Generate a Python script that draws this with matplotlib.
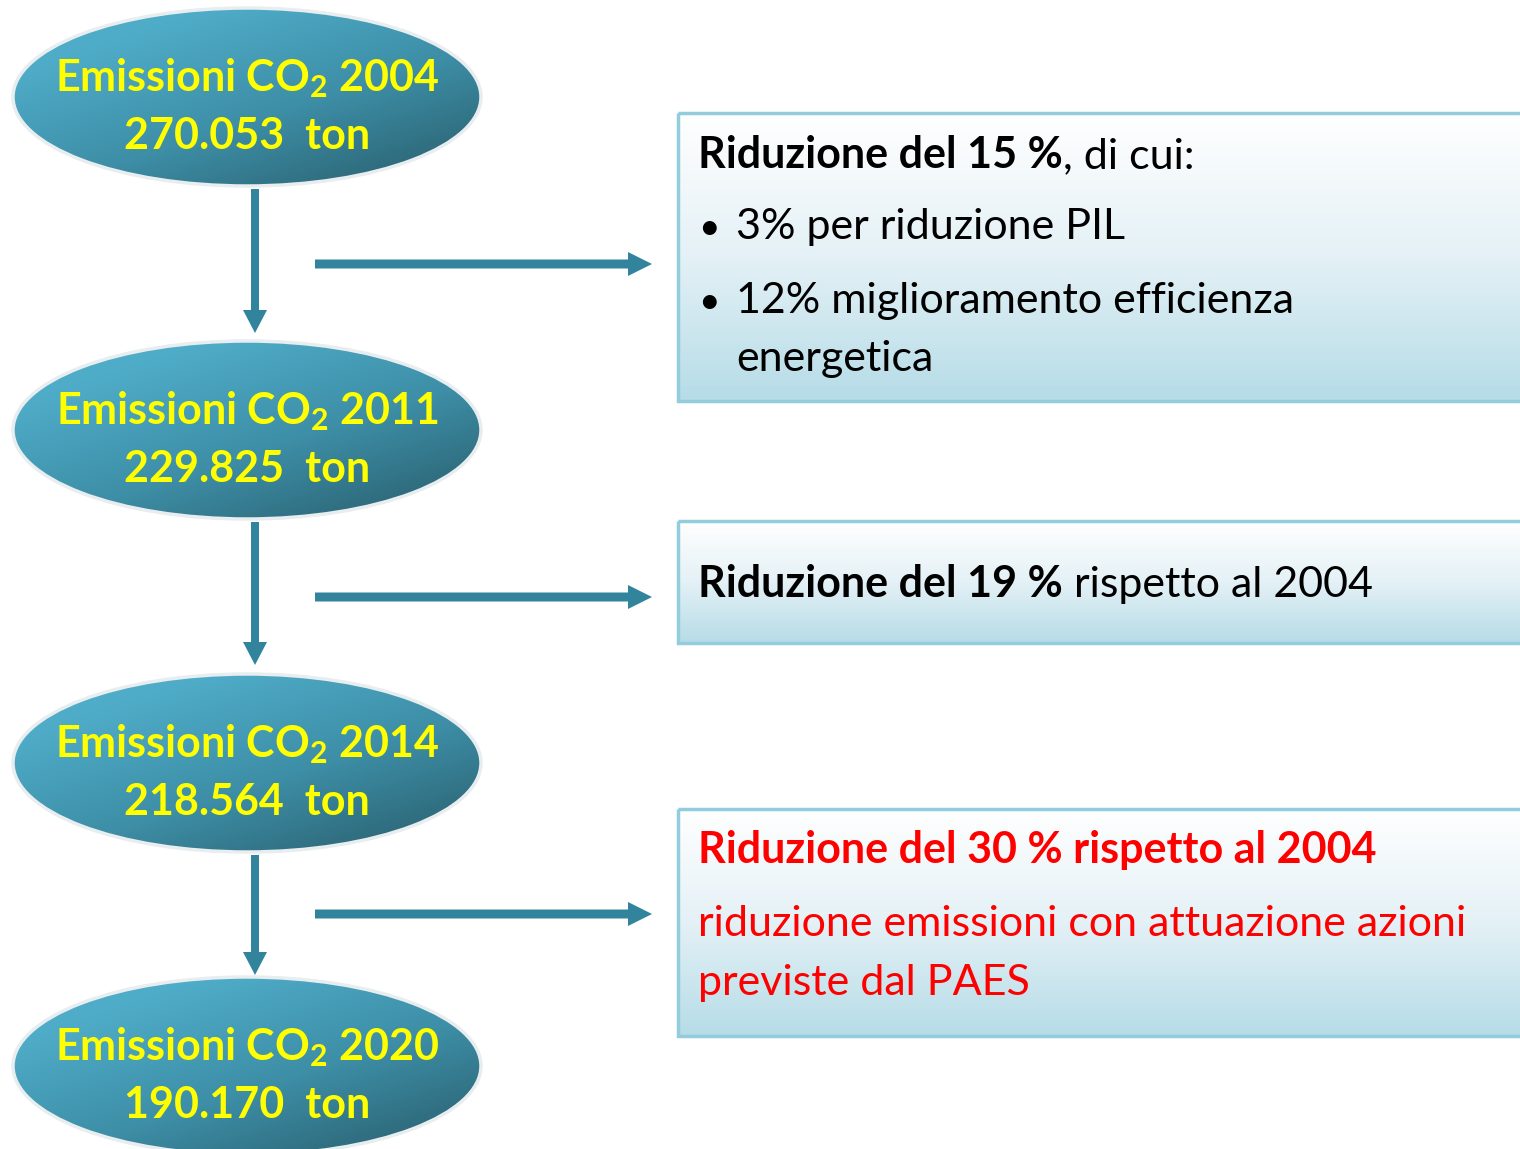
import numpy as np
import matplotlib
matplotlib.use("Agg")
import matplotlib.pyplot as plt
from matplotlib.patches import Ellipse, Rectangle, FancyArrow
from matplotlib.colors import LinearSegmentedColormap

plt.rcParams['font.family'] = ['Lato', 'DejaVu Sans']
plt.rcParams['mathtext.fontset'] = 'custom'
plt.rcParams['mathtext.rm'] = 'Lato'
plt.rcParams['mathtext.bf'] = 'Lato:bold'

# data
years = ['2004', '2011', '2014', '2020']
values = ['270.053', '229.825', '218.564', '190.170']
box_bold = ['Riduzione del 15 %', 'Riduzione del 19 %', 'Riduzione del 30 % rispetto al 2004']
box_rest = [', di cui:', ' rispetto al 2004', '']
box1_bullets = [['3% per riduzione PIL'], ['12% miglioramento efficienza', 'energetica']]
box3_lines = ['riduzione emissioni con attuazione azioni', 'previste dal PAES']

W, H = 1520, 1149
fig = plt.figure(figsize=(W / 100, H / 100), dpi=100)
ax = fig.add_axes([0, 0, 1, 1])
ax.set_xlim(0, W)
ax.set_ylim(H, 0)
ax.axis('off')

# layout
ell_cx, ell_w, ell_h = 247, 468, 178
ell_cy = [97, 430, 763, 1066]
fs_main = 31
arrow_col = '#31849B'
ell_cmap = LinearSegmentedColormap.from_list('ell', ['#4FACC8', '#3D8EA6', '#2A5F6F'])
box_cmap = LinearSegmentedColormap.from_list('box', ['#FFFFFF', '#E4F1F6', '#B6DCE7'])

# gradient ellipses
gx, gy = np.meshgrid(np.linspace(0, 1, 200), np.linspace(0, 1, 200))
ell_grad = np.clip(0.6 * gx + 0.7 * gy - 0.25, 0, 1)
for cy, yr, val in zip(ell_cy, years, values):
    e = Ellipse((ell_cx, cy), ell_w, ell_h, facecolor='none', edgecolor='#E8EDEF', lw=2.5, zorder=3)
    ax.add_patch(e)
    im = ax.imshow(ell_grad, cmap=ell_cmap, vmin=0, vmax=1, aspect='auto',
                   extent=(ell_cx - ell_w / 2, ell_cx + ell_w / 2, cy + ell_h / 2, cy - ell_h / 2),
                   zorder=2, interpolation='bilinear')
    im.set_clip_path(e)
    ax.text(ell_cx, cy - 6, 'Emissioni CO$_\\mathbf{2}$ ' + yr, color='#FFFF00', fontsize=fs_main,
            fontweight='bold', ha='center', va='baseline', zorder=4)
    ax.text(ell_cx, cy + 52, val + '  ton', color='#FFFF00', fontsize=fs_main,
            fontweight='bold', ha='center', va='baseline', zorder=4)

# vertical arrows
v_x = 255
v_spans = [(189, 333), (522, 665), (855, 975)]
for y0, y1 in v_spans:
    ax.add_patch(FancyArrow(v_x, y0, 0, y1 - y0, width=8, head_width=24, head_length=23,
                            length_includes_head=True, color=arrow_col, lw=0, zorder=5))

# horizontal arrows
h_y = [264, 597, 914]
for y in h_y:
    ax.add_patch(FancyArrow(315, y, 652 - 315, 0, width=9, head_width=24, head_length=24,
                            length_includes_head=True, color=arrow_col, lw=0, zorder=5))

# boxes
box_x0, box_x1 = 678, 1540
box_spans = [(113, 401), (521, 643), (809, 1036)]
box_grad = np.linspace(0, 1, 200)[:, None] * np.ones((1, 2))
for y0, y1 in box_spans:
    r = Rectangle((box_x0, y0), box_x1 - box_x0, y1 - y0, facecolor='none',
                  edgecolor='#93CDDD', lw=2.5, zorder=3)
    ax.add_patch(r)
    im = ax.imshow(box_grad, cmap=box_cmap, vmin=0, vmax=1, aspect='auto',
                   extent=(box_x0, box_x1, y1, y0), zorder=2, interpolation='bilinear')
    im.set_clip_path(r)

fig.canvas.draw()
renderer = fig.canvas.get_renderer()
inv = ax.transData.inverted()


def mixed(x, y, bold, rest, color):
    t = ax.text(x, y, bold, fontsize=fs_main, fontweight='bold', color=color,
                ha='left', va='baseline', zorder=6)
    if rest:
        bb = t.get_window_extent(renderer=renderer)
        xe = inv.transform((bb.x1, bb.y0))[0]
        ax.text(xe, y, rest, fontsize=fs_main, color=color, ha='left', va='baseline', zorder=6)


tx = 698
mixed(tx, 168, box_bold[0], box_rest[0], 'black')
bullet_y = [239, 313]
line_step = 58
for by, blines in zip(bullet_y, box1_bullets):
    ax.text(698, by, '•', fontsize=fs_main - 4, color='black', ha='left', va='baseline', zorder=6)
    for k, btxt in enumerate(blines):
        ax.text(736, by + k * line_step, btxt, fontsize=fs_main, color='black',
                ha='left', va='baseline', zorder=6)

mixed(tx, 597, box_bold[1], box_rest[1], 'black')

mixed(tx, 863, box_bold[2], box_rest[2], '#FF0000')
for ly, ltxt in zip([936, 995], box3_lines):
    ax.text(tx, ly, ltxt, fontsize=fs_main, color='#FF0000', ha='left', va='baseline', zorder=6)

fig.savefig('out.png', dpi=100)
